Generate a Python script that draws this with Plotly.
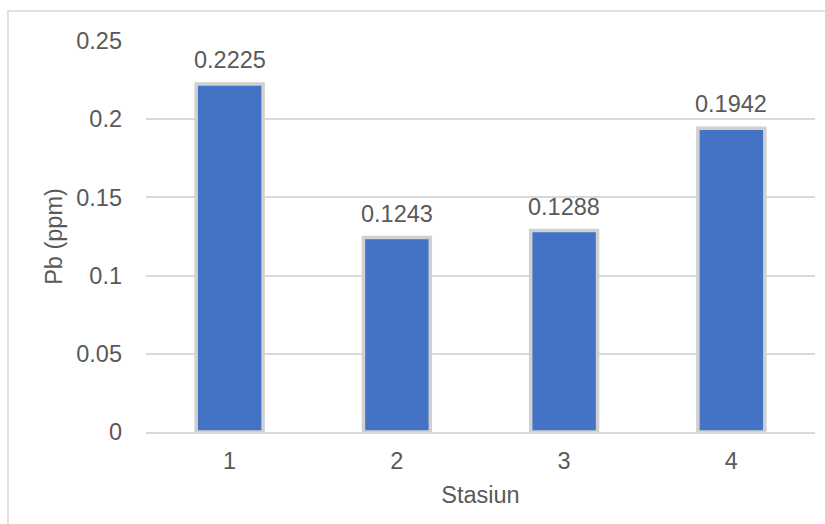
import plotly.graph_objects as go

# Lead (Pb) concentration per sampling station
stations = ["1", "2", "3", "4"]
pb_ppm = [0.2225, 0.1243, 0.1288, 0.1942]
y_ticks = [0, 0.05, 0.1, 0.15, 0.2, 0.25]
y_tick_labels = ["0", "0.05", "0.1", "0.15", "0.2", "0.25"]

FONT = "Liberation Sans, Arial, sans-serif"
TEXT = "#595959"
GRID = "#d9d9d9"
FS = 23.5

fig = go.Figure(
    go.Bar(
        x=stations,
        y=pb_ppm,
        width=0.4,
        marker=dict(color="#4472C4", line=dict(color="#d0d0d0", width=3.5)),
        hoverinfo="x+y",
    )
)

# Value labels above each bar (category index positions)
for i, v in enumerate(pb_ppm):
    fig.add_annotation(
        x=i, y=v, text=f"{v:.4f}", showarrow=False,
        xref="x", yref="y",
        yanchor="bottom", yshift=9,
        font=dict(family=FONT, size=FS, color=TEXT),
    )

# Chart-area frame
fig.add_shape(
    type="rect", xref="paper", yref="paper",
    x0=-0.2063, x1=2, y0=-1, y1=1.0767,
    line=dict(color=GRID, width=1.5), fillcolor="rgba(0,0,0,0)", layer="below",
)

fig.update_layout(
    width=825, height=524,
    margin=dict(l=146, r=10, t=41, b=92),
    paper_bgcolor="white", plot_bgcolor="white",
    showlegend=False,
    font=dict(family=FONT, size=FS, color=TEXT),
)
fig.update_xaxes(
    type="category", range=[-0.5, len(stations) - 0.5],
    showgrid=False, showline=True, linecolor=GRID, linewidth=1.5,
    ticks="", ticklabelstandoff=7,
    tickfont=dict(family=FONT, size=FS, color=TEXT),
    title=dict(text="Stasiun", standoff=14, font=dict(family=FONT, size=FS, color=TEXT)),
)
fig.update_yaxes(
    range=[0, 0.25], tickvals=y_ticks, ticktext=y_tick_labels,
    showgrid=True, gridcolor=GRID, gridwidth=1.5,
    zeroline=False, showline=False, ticks="", ticklabelstandoff=23,
    tickfont=dict(family=FONT, size=FS, color=TEXT),
    title=dict(text="Pb (ppm)", standoff=7, font=dict(family=FONT, size=FS, color=TEXT)),
)

fig.write_html("out.html")
